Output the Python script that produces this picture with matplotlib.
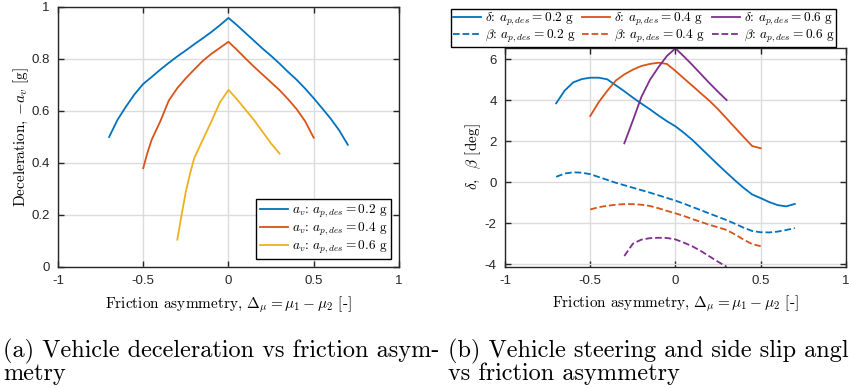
import numpy as np
import matplotlib
matplotlib.use('Agg')
import matplotlib.pyplot as plt

plt.rcParams['font.family'] = ['Liberation Sans', 'DejaVu Sans']
plt.rcParams['mathtext.fontset'] = 'cm'
plt.rcParams['axes.unicode_minus'] = False

# (a) deceleration vs friction asymmetry
x_a02 = [-0.7, -0.65, -0.6, -0.55, -0.5, -0.45, -0.4, -0.35, -0.3, -0.25, -0.2, -0.15, -0.1, -0.05, 0.0,
         0.05, 0.1, 0.15, 0.2, 0.25, 0.3, 0.35, 0.4, 0.45, 0.5, 0.55, 0.6, 0.65, 0.7]
av_02 = [0.50, 0.567, 0.618, 0.665, 0.704, 0.731, 0.759, 0.785, 0.81, 0.833, 0.857, 0.88, 0.904, 0.93, 0.958,
         0.93, 0.90, 0.87, 0.84, 0.812, 0.782, 0.75, 0.72, 0.686, 0.649, 0.61, 0.57, 0.525, 0.47]
x_a04 = [-0.5, -0.475, -0.45, -0.4, -0.35, -0.3, -0.25, -0.2, -0.15, -0.1, -0.05, 0.0,
         0.05, 0.1, 0.15, 0.2, 0.25, 0.3, 0.35, 0.4, 0.45, 0.5]
av_04 = [0.38, 0.44, 0.49, 0.56, 0.64, 0.688, 0.726, 0.76, 0.793, 0.82, 0.843, 0.866,
         0.835, 0.802, 0.77, 0.74, 0.71, 0.68, 0.645, 0.607, 0.56, 0.497]
x_a06 = [-0.3, -0.275, -0.25, -0.225, -0.2, -0.15, -0.1, -0.05, 0.0, 0.05, 0.1, 0.15, 0.2, 0.25, 0.3]
av_06 = [0.105, 0.20, 0.29, 0.36, 0.42, 0.49, 0.56, 0.633, 0.681, 0.645, 0.605, 0.565, 0.52, 0.475, 0.436]

# (b) steering angle delta and side slip beta
x_b02 = [-0.7, -0.65, -0.6, -0.55, -0.5, -0.45, -0.4, -0.35, -0.3, -0.25, -0.2, -0.15, -0.1, -0.05, 0.0,
         0.05, 0.1, 0.15, 0.2, 0.25, 0.3, 0.35, 0.4, 0.45, 0.5, 0.55, 0.6, 0.65, 0.7]
delta_02 = [3.84, 4.46, 4.86, 5.02, 5.09, 5.09, 5.01, 4.72, 4.43, 4.12, 3.83, 3.55, 3.25, 2.97, 2.72,
            2.4, 2.05, 1.65, 1.25, 0.85, 0.46, 0.08, -0.28, -0.6, -0.78, -0.97, -1.12, -1.18, -1.06]
beta_02 = [0.26, 0.42, 0.48, 0.46, 0.39, 0.25, 0.11, -0.03, -0.15, -0.27, -0.39, -0.51, -0.64, -0.77, -0.9,
           -1.05, -1.21, -1.37, -1.53, -1.69, -1.85, -2.03, -2.22, -2.38, -2.44, -2.45, -2.41, -2.33, -2.24]
x_b04 = [-0.5, -0.45, -0.4, -0.35, -0.3, -0.25, -0.2, -0.15, -0.1, -0.05, 0.0,
         0.05, 0.1, 0.15, 0.2, 0.25, 0.3, 0.35, 0.4, 0.45, 0.5]
delta_04 = [3.22, 3.9, 4.45, 4.95, 5.25, 5.48, 5.66, 5.76, 5.82, 5.76, 5.42,
            5.05, 4.69, 4.32, 3.96, 3.55, 3.1, 2.65, 2.2, 1.76, 1.65]
beta_04 = [-1.33, -1.22, -1.15, -1.1, -1.07, -1.07, -1.1, -1.16, -1.27, -1.4, -1.52,
           -1.65, -1.8, -1.94, -2.08, -2.2, -2.33, -2.55, -2.8, -3.02, -3.12]
x_b06 = [-0.3, -0.25, -0.2, -0.15, -0.1, -0.05, 0.0, 0.05, 0.1, 0.15, 0.2, 0.25, 0.3]
delta_06 = [1.89, 3.0, 4.15, 4.98, 5.6, 6.15, 6.52, 6.12, 5.7, 5.26, 4.82, 4.4, 4.0]
beta_06 = [-3.6, -3.0, -2.8, -2.73, -2.71, -2.72, -2.79, -2.95, -3.13, -3.36, -3.62, -3.88, -4.12]

c_blue, c_orange, c_yellow, c_purple = '#0072BD', '#D95319', '#EDB120', '#7E2F8E'
lab_font = {'family': 'cmr10', 'size': 11}
leg_prop = {'family': 'cmr10', 'size': 9.6}


def style_axes(ax):
    ax.set_xlim(-1, 1)
    ax.set_xticks([-1, -0.5, 0, 0.5, 1])
    ax.set_xticklabels(['-1', '-0.5', '0', '0.5', '1'])
    ax.grid(True, color='#dcdcdc', linewidth=1.0)
    ax.set_axisbelow(True)
    ax.tick_params(direction='in', top=True, right=True, labelsize=9.5,
                   length=4, width=1, colors='#262626', pad=6)
    for s in ax.spines.values():
        s.set_color('#262626')
        s.set_linewidth(1.0)
    ax.set_xlabel(r'Friction asymmetry, $\Delta_\mu = \mu_1 - \mu_2$ [-]', fontdict=lab_font, labelpad=5)


fig = plt.figure(figsize=(8.49, 3.88), dpi=100)

ax1 = fig.add_axes([0.0683, 0.312, 0.4016, 0.670])
ax1.plot(x_a02, av_02, color=c_blue, lw=1.3, label=r'$a_v$: $a_{p,des} = 0.2$ g')
ax1.plot(x_a04, av_04, color=c_orange, lw=1.3, label=r'$a_v$: $a_{p,des} = 0.4$ g')
ax1.plot(x_a06, av_06, color=c_yellow, lw=1.3, label=r'$a_v$: $a_{p,des} = 0.6$ g')
ax1.set_ylim(0, 1)
ax1.set_yticks([0, 0.2, 0.4, 0.6, 0.8, 1])
ax1.set_yticklabels(['0', '0.2', '0.4', '0.6', '0.8', '1'])
style_axes(ax1)
ax1.set_ylabel(r'Deceleration, $-a_v$ [g]', fontdict=lab_font, labelpad=0)
leg1 = ax1.legend(loc='lower right', prop=leg_prop, fancybox=False,
                  edgecolor='black', framealpha=1, handlelength=2.1, borderaxespad=0.6,
                  labelspacing=0.05, handletextpad=0.3, borderpad=0.25)
leg1.get_frame().set_linewidth(1.0)

ax2 = fig.add_axes([0.5948, 0.3126, 0.4016, 0.5644])
l1, = ax2.plot(x_b02, delta_02, color=c_blue, lw=1.3)
l2, = ax2.plot(x_b02, beta_02, color=c_blue, lw=1.3, ls='--')
l3, = ax2.plot(x_b04, delta_04, color=c_orange, lw=1.3)
l4, = ax2.plot(x_b04, beta_04, color=c_orange, lw=1.3, ls='--')
l5, = ax2.plot(x_b06, delta_06, color=c_purple, lw=1.3)
l6, = ax2.plot(x_b06, beta_06, color=c_purple, lw=1.3, ls='--')
ax2.set_ylim(-4.12, 6.55)
ax2.set_yticks([-4, -2, 0, 2, 4, 6])
ax2.set_yticklabels(['-4', '-2', '0', '2', '4', '6'])
style_axes(ax2)
ax2.set_ylabel(r'$\delta$,  $\beta$ [deg]', fontdict=lab_font, labelpad=1)
handles = [l1, l2, l3, l4, l5, l6]
labels = [r'$\delta$: $a_{p,des} = 0.2$ g', r'$\beta$: $a_{p,des} = 0.2$ g',
          r'$\delta$: $a_{p,des} = 0.4$ g', r'$\beta$: $a_{p,des} = 0.4$ g',
          r'$\delta$: $a_{p,des} = 0.6$ g', r'$\beta$: $a_{p,des} = 0.6$ g']
leg2 = fig.legend(handles, labels, ncol=3, loc='upper right', bbox_to_anchor=(0.993, 0.994),
                  prop=leg_prop, fancybox=False, edgecolor='black',
                  framealpha=1, handlelength=2.1, labelspacing=0.0, handletextpad=0.3,
                  columnspacing=0.5, borderpad=0.12)
leg2.get_frame().set_linewidth(1.0)

cap_font = {'family': 'cmr10', 'size': 17.5}
fig.text(0.004, 1 - 357 / 388, '(a) Vehicle deceleration vs friction asym-', fontdict=cap_font,
         va='baseline', ha='left')
fig.text(0.004, 1 - 380 / 388, 'metry', fontdict=cap_font, va='baseline', ha='left')
fig.text(0.528, 1 - 357 / 388, '(b) Vehicle steering and side slip angles', fontdict=cap_font,
         va='baseline', ha='left')
fig.text(0.528, 1 - 380 / 388, 'vs friction asymmetry', fontdict=cap_font, va='baseline', ha='left')

fig.savefig('out.png', dpi=100)
